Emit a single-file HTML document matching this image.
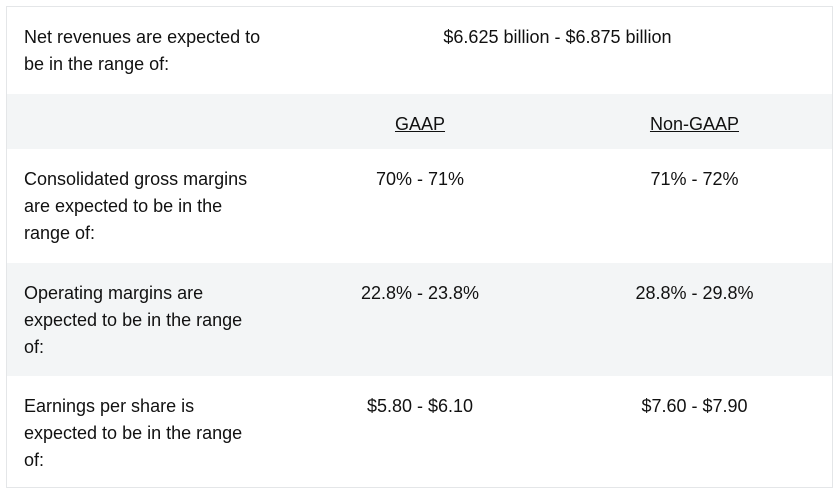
<!DOCTYPE html>
<html><head><meta charset="utf-8"><style>
body{margin:0;background:#fff;width:840px;height:494px;font-family:"Liberation Sans",sans-serif;color:#111;}
.wrap{position:absolute;left:6px;top:6px;width:827px;height:482px;border:1px solid #e4e6e8;box-sizing:border-box;}
.row{position:absolute;left:0;width:825px;}
.c{position:absolute;top:17px;font-size:18px;line-height:27px;}
.c1{left:17px;width:238px;}
.c2{left:276px;width:274px;text-align:center;}
.c3{left:550px;width:275px;text-align:center;}
.u{text-decoration:underline;}
.g{background:#f3f5f6;}
</style></head><body>
<div class="wrap">
<div class="row" style="top:0;height:87px">
<div class="c c1">Net revenues are expected to be in the range of:</div>
<div class="c" style="left:276px;width:549px;text-align:center">$6.625 billion - $6.875 billion</div>
</div>
<div class="row g" style="top:87px;height:55px">
<div class="c c2 u">GAAP</div>
<div class="c c3 u">Non-GAAP</div>
</div>
<div class="row" style="top:142px;height:114px">
<div class="c c1">Consolidated gross margins are expected to be in the range of:</div>
<div class="c c2">70% - 71%</div>
<div class="c c3">71% - 72%</div>
</div>
<div class="row g" style="top:256px;height:113px">
<div class="c c1">Operating margins are expected to be in the range of:</div>
<div class="c c2">22.8% - 23.8%</div>
<div class="c c3">28.8% - 29.8%</div>
</div>
<div class="row" style="top:369px;height:111px">
<div class="c c1">Earnings per share is expected to be in the range of:</div>
<div class="c c2">$5.80 - $6.10</div>
<div class="c c3">$7.60 - $7.90</div>
</div>
</div>
</body></html>
